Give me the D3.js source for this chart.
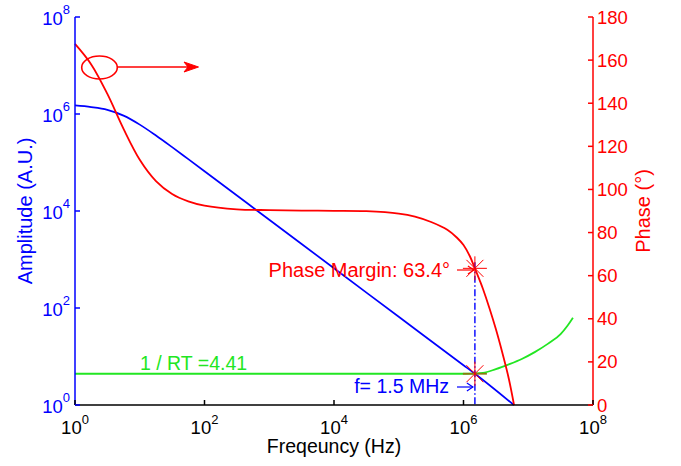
<!DOCTYPE html>
<html><head><meta charset="utf-8">
<script src="https://cdn.jsdelivr.net/npm/d3@7"></script>
<style>body{margin:0;background:#fff}svg{display:block;font-family:"Liberation Sans",Arial,sans-serif}</style>
</head><body><svg id="c" width="681" height="466"></svg>
<script>
// ---- data ----
const ampFreq = [1, 1.78, 3.16, 5.62, 10, 17.8, 31.6, 56.2, 100, 1e3, 1e4, 1e5, 1e6, 1.5e6, 6.0e6];
const ampVal  = [1.5e6, 1.39e6, 1.22e6, 9.25e5, 6.04e5, 3.6e5, 2.07e5, 1.17e5, 6.6e4, 6.6e3, 660, 66, 6.6, 4.41, 1.0];

const phaseFreq = [1, 1.78, 3.16, 5.62, 10, 17.8, 31.6, 56.2, 100, 316, 1e3, 3.16e3, 1e4, 3.16e4, 1e5, 1.78e5, 3.16e5, 5.62e5, 7.94e5, 1e6, 1.26e6, 1.5e6, 1.78e6, 2.0e6, 2.51e6, 3.16e6, 3.98e6, 5.01e6, 6.03e6];
const phaseVal  = [167.5, 158, 144.3, 128.1, 113.8, 103.9, 97.9, 94.5, 92.5, 90.8, 90.4, 90.2, 90.1, 89.9, 88.8, 87.4, 84.9, 81.3, 77.6, 74.2, 68.9, 63.4, 57.8, 53.8, 45, 35.2, 24.2, 12.2, 0];

const rtFreq = [1, 1e6, 2.0e6, 3.16e6, 5.01e6, 7.94e6, 1.26e7, 2.0e7, 3.16e7, 3.98e7, 4.9e7];
const rtVal  = [4.41, 4.41, 4.6, 5.5, 6.9, 8.9, 12.3, 18.2, 29, 42, 63];

const crossFreq = 1.5e6, crossAmp = 4.41, phaseMargin = 63.4;
const xTickExp = [0, 2, 4, 6, 8];
const yTickExp = [0, 2, 4, 6, 8];
const phaseTicks = [0, 20, 40, 60, 80, 100, 120, 140, 160, 180];

// ---- layout ----
const L = 75, R = 593, T = 17, B = 405;
const BLUE = "#0000ff", RED = "#ff0000", GREEN = "#22e622";
const svg = d3.select("#c");
svg.append("rect").attr("width", 681).attr("height", 466).attr("fill", "#fff");

const x = d3.scaleLog().domain([1, 1e8]).range([L, R]);
const yA = d3.scaleLog().domain([1, 1e8]).range([B, T]);
const yP = d3.scaleLinear().domain([0, 180]).range([B, T]);

const line = (xs, ys, ysc, curve) => d3.line().curve(curve || d3.curveMonotoneX)
  .x((d, i) => x(xs[i])).y((d, i) => ysc(ys[i]))(xs);

// curves
svg.append("path").attr("d", line(rtFreq, rtVal, yA)).attr("fill", "none").attr("stroke", GREEN).attr("stroke-width", 1.8);
svg.append("path").attr("d", line(ampFreq, ampVal, yA)).attr("fill", "none").attr("stroke", BLUE).attr("stroke-width", 1.7);
svg.append("path").attr("d", line(phaseFreq, phaseVal, yP, d3.curveCatmullRom.alpha(0.5))).attr("fill", "none").attr("stroke", RED).attr("stroke-width", 1.8);

// dash-dot vertical
const cx = x(crossFreq);
svg.append("line").attr("x1", cx).attr("x2", cx).attr("y1", yP(phaseMargin) - 6).attr("y2", B)
  .attr("stroke", BLUE).attr("stroke-width", 1.4).attr("stroke-dasharray", "7,2.5,1.5,2.5");

// asterisks
function star(px, py, color, hColor) {
  const g = svg.append("g").attr("stroke", color).attr("stroke-width", 1);
  const r = 12, d = 8.5;
  g.append("line").attr("x1", px - r).attr("x2", px + r).attr("y1", py).attr("y2", py).attr("stroke", hColor || color).attr("stroke-width", hColor ? 1.8 : 1);
  g.append("line").attr("x1", px).attr("x2", px).attr("y1", py - r).attr("y2", py + r);
  g.append("line").attr("x1", px - d).attr("x2", px + d).attr("y1", py - d).attr("y2", py + d);
  g.append("line").attr("x1", px - d).attr("x2", px + d).attr("y1", py + d).attr("y2", py - d);
}
star(cx, yP(phaseMargin), RED);
star(cx, yA(crossAmp), RED, "#8c7a10");

// axes
const ax = svg.append("g");
ax.append("line").attr("x1", L).attr("x2", R).attr("y1", B).attr("y2", B).attr("stroke", "#000").attr("stroke-width", 1.5);
ax.append("line").attr("x1", L).attr("x2", L).attr("y1", T).attr("y2", B).attr("stroke", BLUE).attr("stroke-width", 1.5);
ax.append("line").attr("x1", R).attr("x2", R).attr("y1", T).attr("y2", B).attr("stroke", RED).attr("stroke-width", 1.5);

xTickExp.forEach(e => {
  const px = x(Math.pow(10, e));
  ax.append("line").attr("x1", px).attr("x2", px).attr("y1", B).attr("y2", B - 5).attr("stroke", "#000").attr("stroke-width", 1.5);
  const t = ax.append("text").attr("x", px).attr("y", 434).attr("text-anchor", "middle").attr("fill", "#000").attr("font-size", 18.5);
  t.append("tspan").text("10");
  t.append("tspan").attr("dy", -10).attr("font-size", 13).text(e);
});
yTickExp.forEach(e => {
  const py = yA(Math.pow(10, e));
  ax.append("line").attr("x1", L).attr("x2", L + 5).attr("y1", py).attr("y2", py).attr("stroke", BLUE).attr("stroke-width", 1.5);
  const t = ax.append("text").attr("x", 70).attr("y", py + 8).attr("text-anchor", "end").attr("fill", BLUE).attr("font-size", 18.5);
  t.append("tspan").text("10");
  t.append("tspan").attr("dy", -11).attr("font-size", 13).text(e);
});
phaseTicks.forEach(v => {
  const py = yP(v);
  ax.append("line").attr("x1", R).attr("x2", R - 5).attr("y1", py).attr("y2", py).attr("stroke", RED).attr("stroke-width", 1.5);
  ax.append("text").attr("x", 597).attr("y", py + 6.5).attr("fill", RED).attr("font-size", 18.5).text(v);
});

// axis titles
svg.append("text").attr("x", 334).attr("y", 453).attr("text-anchor", "middle").attr("font-size", 19.5).attr("fill", "#000").text("Freqeuncy (Hz)");
svg.append("text").attr("transform", "translate(32,211) rotate(-90)").attr("text-anchor", "middle").attr("font-size", 20).attr("fill", BLUE).text("Amplitude (A.U.)");
svg.append("text").attr("transform", "translate(650,211) rotate(-90)").attr("text-anchor", "middle").attr("font-size", 20).attr("fill", RED).text("Phase (°)");

// annotations
svg.append("text").attr("x", 450).attr("y", 277).attr("text-anchor", "end").attr("font-size", 20).attr("fill", RED).text("Phase Margin: " + phaseMargin + "°");
svg.append("text").attr("x", 140).attr("y", 370).attr("font-size", 19.5).attr("fill", GREEN).text("1 / RT =" + crossAmp);
svg.append("text").attr("x", 449).attr("y", 393).attr("text-anchor", "end").attr("font-size", 19.5).attr("fill", BLUE).text("f= 1.5 MHz");

function textArrow(x1, x2, yy, color) {
  const g = svg.append("g").attr("stroke", color).attr("stroke-width", 1.2).attr("fill", "none");
  g.append("line").attr("x1", x1).attr("x2", x2).attr("y1", yy).attr("y2", yy);
  g.append("path").attr("d", `M${x2 - 6},${yy - 4}L${x2},${yy}L${x2 - 6},${yy + 4}`);
}
textArrow(457, cx - 1, 270, RED);
textArrow(457, cx - 2, 387, BLUE);

// ellipse + arrow pointing at phase axis
svg.append("ellipse").attr("cx", 99.5).attr("cy", 67.5).attr("rx", 17.8).attr("ry", 11.5).attr("fill", "none").attr("stroke", RED).attr("stroke-width", 1.6);
svg.append("line").attr("x1", 117.3).attr("x2", 190).attr("y1", 67).attr("y2", 67).attr("stroke", RED).attr("stroke-width", 1.6);
svg.append("path").attr("d", "M198.5,67L184,62L188,67L184,72Z").attr("fill", RED).attr("stroke", RED).attr("stroke-width", 1);
</script></body></html>
